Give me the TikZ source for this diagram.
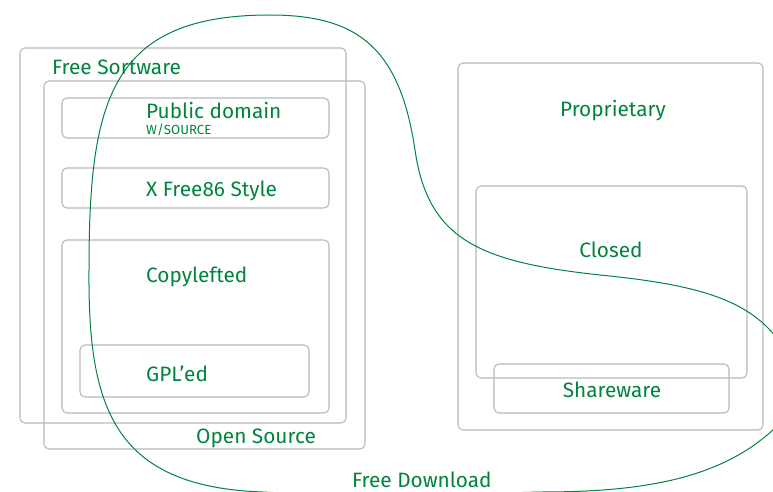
\documentclass[tikz,border=0pt]{standalone}
\usepackage{fontspec}
\setmainfont{Fira Sans}
\usepackage{tikz}
\definecolor{fsfgreen}{RGB}{0, 132, 61}
\definecolor{boxgray}{RGB}{185, 185, 185}

\begin{document}
\begin{tikzpicture}[x=1pt, y=-1pt,
        box/.style={draw=boxgray, line width=1.1pt, rounded corners=5pt},
        label/.style={text=fsfgreen, inner sep=0pt, font=\fontsize{20.8}{24}\selectfont},
        sublabel/.style={text=fsfgreen, inner sep=0pt, font=\fontsize{13.2}{15}\selectfont}]
            % Frame to fix the page:
            \useasboundingbox                                                 (0, 0) rectangle (773, 492);
            % Free software side
            \draw[box]                                                        ( 20,  48) rectangle (346, 423);
            \draw[box]                                                        ( 44,  81) rectangle (365, 449);
            \draw[box]                                                        ( 62,  98) rectangle (329, 138);
            \draw[box]                                                        ( 62, 168) rectangle (329, 208);
            \draw[box]                                                        ( 62, 240) rectangle (329, 413);
            \draw[box]                                                        ( 80, 345) rectangle (309, 397);
            % Proprietary side
            \draw[box]                                                        (458,  63) rectangle (763, 430);
            \draw[box]                                                        (476, 186) rectangle (747, 378);
            \draw[box]                                                        (494, 364) rectangle (729, 413);
            % Free Download loop
            \draw[fsfgreen, line width=1pt] (245, 491) .. controls (110, 480) and ( 88, 400) .. ( 89, 270)
                                            .. controls ( 89, 100) and (110,  15) .. (270,  15)
                                            .. controls (360,  15) and (400,  50) .. (415, 150)
                                            .. controls (428, 240) and (480, 262) .. (600, 275)
                                            .. controls (700, 285) and (755, 300) .. (785, 350)
                                            .. controls (800, 380) and (792, 410) .. (775, 428)
                                            .. controls (720, 480) and (640, 492) .. (540, 492)
                                            .. controls (440, 495) and (320, 496) .. (245, 491);
            % Labels
            \node[label, anchor=west] (freesw)    at ( 52,  67) {Free Sortware};
            \node[label, anchor=west] (pubdom)    at (146, 111) {Public domain};
            \node[sublabel, anchor=west] (wsource) at (146, 130) {W/SOURCE};
            \node[label, anchor=west] (xfree)     at (146, 191) {X Free86 Style};
            \node[label, anchor=west] (copyleft)  at (146, 277) {Copylefted};
            \node[label, anchor=west] (gpled)     at (146, 374) {GPL’ed};
            \node[label, anchor=west] (opensrc)   at (196, 438) {Open Source};
            \node[label, anchor=west] (freedl)    at (352, 480) {Free Download};
            \node[label]              (propri)    at (613, 111) {Proprietary};
            \node[label]              (closed)    at (611, 250) {Closed};
            \node[label]              (sharew)    at (612, 390) {Shareware};
        \end{tikzpicture}
\end{document}
